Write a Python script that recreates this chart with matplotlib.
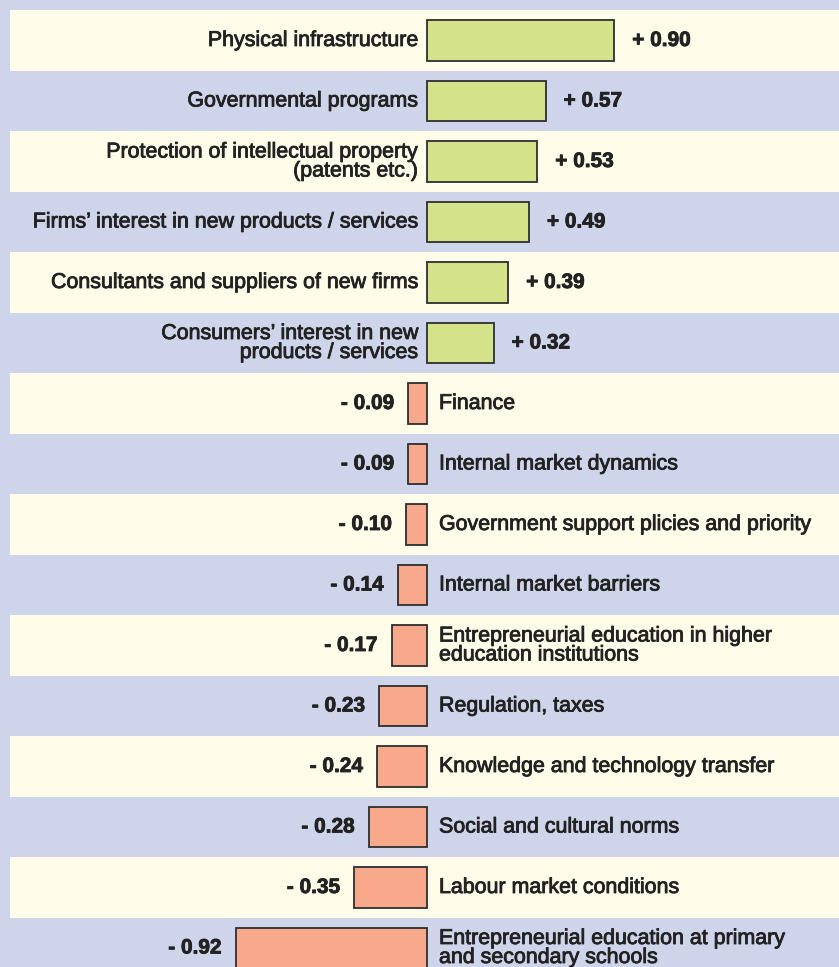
import numpy as np
import matplotlib
matplotlib.use("Agg")
import matplotlib.pyplot as plt
import matplotlib.patheffects as pe

# data
categories = [
    "Physical infrastructure",
    "Governmental programs",
    "Protection of intellectual property\n(patents etc.)",
    "Firms\u2019 interest in new products / services",
    "Consultants and suppliers of new firms",
    "Consumers\u2019 interest in new\nproducts / services",
    "Finance",
    "Internal market dynamics",
    "Government support plicies and priority",
    "Internal market barriers",
    "Entrepreneurial education in higher\neducation institutions",
    "Regulation, taxes",
    "Knowledge and technology transfer",
    "Social and cultural norms",
    "Labour market conditions",
    "Entrepreneurial education at primary\nand secondary schools",
]
values = [0.90, 0.57, 0.53, 0.49, 0.39, 0.32,
          -0.09, -0.09, -0.10, -0.14, -0.17, -0.23, -0.24, -0.28, -0.35, -0.92]

lavender = "#CED5EA"
cream = "#FFFCE9"
green = "#D4E38A"
salmon = "#F8A98C"
edge = "#2E2E2E"
txt = "#222222"

plt.rcParams['font.family'] = ['Liberation Sans', 'DejaVu Sans']

fig = plt.figure(figsize=(8.39, 9.67), dpi=100)
fig.patch.set_facecolor(lavender)
ax = fig.add_axes([0, 0, 1, 1])
ax.set_facecolor(lavender)

W, H = 839, 967
zero_px, scale = 427, 208.0
row0, row_h = 40.5, 60.5
ax.set_xlim((0 - zero_px) / scale, (W - zero_px) / scale)
ax.set_ylim((H - row0) / row_h, (0 - row0) / row_h)
ax.axis("off")

y = np.arange(len(values))

# alternating cream bands
for i in y[::2]:
    ax.axhspan(i - 0.5, i + 0.5, xmin=10 / W, xmax=1, color=cream, lw=0, zorder=0)

colors = [green if v > 0 else salmon for v in values]
ax.barh(y, values, height=0.665, color=colors, edgecolor=edge, linewidth=1.3, zorder=2)

# slightly heavier text, like the original print
heavy = [pe.withStroke(linewidth=0.6, foreground=txt)]

gap_cat = 9 / scale
gap_val = 18 / scale
for i, (cat, v) in enumerate(zip(categories, values)):
    if v > 0:
        ax.text(-gap_cat, i, cat, ha="right", va="center", fontsize=15.4,
                color=txt, linespacing=1.0, multialignment="right",
                path_effects=heavy)
        ax.text(v + gap_val, i, "+ %.2f" % v, ha="left", va="center",
                fontsize=15, fontweight="bold", color=txt, path_effects=heavy)
    else:
        ax.text(12 / scale, i, cat, ha="left", va="center", fontsize=15.4,
                color=txt, linespacing=1.0, multialignment="left",
                path_effects=heavy)
        ax.text(v - 14 / scale, i, "- %.2f" % abs(v), ha="right", va="center",
                fontsize=15, fontweight="bold", color=txt, path_effects=heavy)

fig.savefig("out.png", dpi=100, facecolor=fig.get_facecolor())
